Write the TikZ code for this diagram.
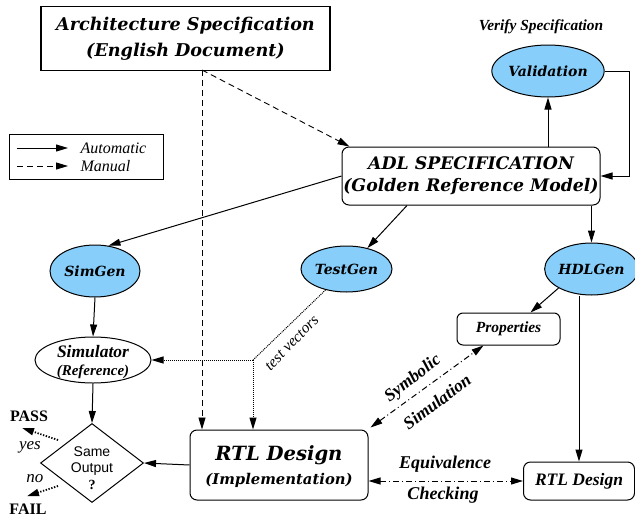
\documentclass[tikz,border=0pt]{standalone}
\usepackage{fontspec}
\setmainfont{Liberation Serif}
\newfontfamily\helv{Liberation Sans}
\newfontfamily\school{DejaVu Serif}
\usetikzlibrary{arrows.meta,shapes.geometric}
\definecolor{genblue}{RGB}{135,206,250}
% Times-like and Schoolbook-like bold italic at a given size
\newcommand{\bi}[1]{\fontsize{#1}{\dimexpr #1pt*6/5\relax}\selectfont\bfseries\itshape}
\newcommand{\sbi}[1]{\school\fontsize{#1}{\dimexpr #1pt*6/5\relax}\selectfont\bfseries\itshape}
\tikzset{
  >={Triangle[length=12pt,width=7pt]},
  flow/.style={->,line width=1pt},
  manual/.style={->,dash pattern=on 6pt off 4pt,line width=0.9pt},
  vectors/.style={dash pattern=on 1pt off 1pt,line width=1pt},
  verdict/.style={->,dash pattern=on 1.3pt off 1.6pt,line width=1.8pt},
  checking/.style={<->,dash pattern=on 6pt off 3pt on 1pt off 3pt,line width=1pt},
  gen/.style={ellipse,draw,fill=genblue,line width=1pt,inner sep=0pt,
    font=\sbi{14}},
  specbox/.style={draw,rounded corners=7pt,line width=1pt,align=center,inner sep=0pt},
}
\begin{document}
\begin{tikzpicture}[x=1pt,y=-1pt]
\useasboundingbox (0,0) rectangle (635,520);
% sources
\node[draw,line width=1.3pt,minimum width=289pt,minimum height=64pt,align=center,
  font=\sbi{17.6}] (arch) at (185.5,38.5) {Architecture Specification\\[5pt](English Document)};
\node[specbox,minimum width=258pt,minimum height=58pt,font=\sbi{17.3}] (adl) at (471,176)
  {ADL SPECIFICATION\\[1.5pt](Golden Reference Model)};
\node[gen,minimum width=104pt,minimum height=52pt] (validation) at (548,71) {Validation};
\node[font=\bi{15.4}] (verify) at (541,27) {Verify Specification};
% legend
\node[draw,line width=1pt,minimum width=154pt,minimum height=45pt] (legend) at (86,156.5) {};
\node[anchor=west,font=\itshape\fontsize{16}{18}\selectfont] (auto) at (77,148) {Automatic};
\node[anchor=west,font=\itshape\fontsize{16}{18}\selectfont] (man) at (77,166) {Manual};
\coordinate (autoL) at (17,148);
\coordinate (manL) at (17,166);
\draw[flow] (autoL) -- (autoL -| 68,0);
\draw[manual] (manL) -- (manL -| 68,0);
% generators
\node[gen,minimum width=90pt,minimum height=52pt] (simgen) at (95,271) {SimGen};
\node[gen,minimum width=91pt,minimum height=46pt] (testgen) at (346.5,269) {TestGen};
\node[gen,minimum width=88pt,minimum height=52pt] (hdlgen) at (591.5,269) {HDLGen};
% checking side
\node[ellipse,draw,line width=1pt,inner sep=0pt,minimum width=116pt,minimum height=46pt]
  (simulator) at (93,360) {};
\node[font=\bi{17.5}] (simname) at (93,352) {Simulator};
\node[font=\bi{15}] (simref) at (93,372) {(Reference)};
\node[diamond,draw,line width=1pt,inner sep=0pt,minimum width=103pt,minimum height=79pt]
  (same) at (92,463) {};
\node[align=center,font=\helv\fontsize{14}{16.5}\selectfont] (sametext) at (92,468)
  {Same\\Output\\{\rmfamily\bfseries ?}};
\node[font=\bfseries\fontsize{16}{18}\selectfont] (pass) at (29,416) {PASS};
\node[font=\bfseries\fontsize{16}{18}\selectfont] (fail) at (28,509) {FAIL};
\node[font=\itshape\fontsize{17}{19}\selectfont] (yes) at (30,447) {yes};
\node[font=\itshape\fontsize{17}{19}\selectfont] (no) at (35,479) {no};
\node[specbox,minimum width=178pt,minimum height=70pt] (rtl) at (279,465) {};
\node[font=\sbi{19.6}] (rtlname) at (279,455) {RTL Design};
\node[font=\sbi{14.8}] (rtlimpl) at (279,480) {(Implementation)};
\node[specbox,rounded corners=6pt,minimum width=103pt,minimum height=32pt,font=\bi{15.5}]
  (properties) at (508.5,329) {Properties};
\node[specbox,rounded corners=7pt,minimum width=111pt,minimum height=38pt,font=\bi{17.5}]
  (rtlhdl) at (579,481) {RTL Design};
% manual steps
\coordinate (split) at (202,70);
\draw[manual] (split) -- (split |- rtl.north);
\draw[manual] (split) -- ([xshift=8pt]adl.north west);
% automatic steps
\draw[flow] (validation.south |- adl.north) -- (validation.south);
\draw[flow] (validation.east) -- ++(25,0) |- (adl.east);
\draw[flow] (adl.west) -- (simgen.62);
\draw[flow] ([xshift=-64pt]adl.south) -- (testgen.45);
\draw[flow] (hdlgen.north |- adl.south) -- (hdlgen.north);
\draw[flow] (simgen.south) -- (simulator.north);
\draw[flow] (simulator.south) -- (same.north);
\draw[flow] (rtl.west) -- (same.east);
\draw[flow] (hdlgen.210) -- ([xshift=22pt]properties.north);
\draw[flow] (hdlgen.south -| rtlhdl.north) -- (rtlhdl.north);
% test vectors
\coordinate (tv) at (253,360);
\draw[vectors] (testgen.225) -- (tv);
\draw[vectors,->] (tv) -- (tv -| simulator.east);
\draw[vectors,->] (tv) -- (tv |- rtl.north);
\node[rotate=46,font=\itshape\fontsize{15.5}{17}\selectfont] (tvlabel) at (292,343) {test vectors};
% verdicts
\draw[verdict] ([shift={(-8,-3)}]same.north west) -- ([shift={(-7,3)}]pass.south);
\draw[verdict] ([shift={(-8,3)}]same.south west) -- ([shift={(-1,-4)}]fail.north);
% formal checks
\draw[checking] ([shift={(2,-2)}]rtl.north east) -- ([xshift=-25pt]properties.south);
\node[rotate=38,font=\bi{17.5}] (symb) at (413,379) {Symbolic};
\node[rotate=37,font=\bi{17.5}] (simu) at (437,402) {Simulation};
\draw[checking] (rtlhdl.west -| rtl.east) -- (rtlhdl.west);
\node[font=\bi{18}] (equiv) at (445,464) {Equivalence};
\node[font=\bi{18}] (check) at (443,495) {Checking};
\end{tikzpicture}
\end{document}
